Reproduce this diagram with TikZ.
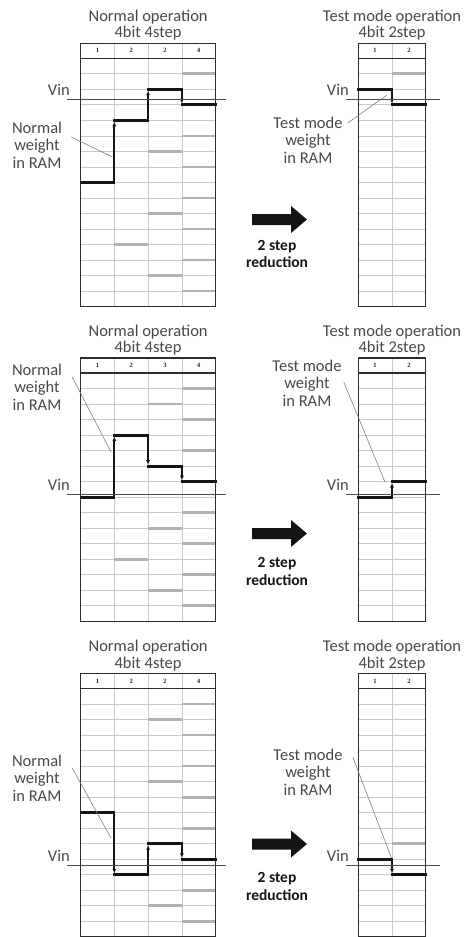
\documentclass[tikz,border=0pt]{standalone}
\usepackage{fontspec}
\setmainfont{Carlito}
\newfontfamily\numfont{Liberation Serif}
\usetikzlibrary{arrows.meta}

\definecolor{gridc}{HTML}{C9C9C9}
\definecolor{markc}{HTML}{B2B2B2}
\definecolor{txtc}{HTML}{484848}
\definecolor{framec}{HTML}{2E2E2E}
\definecolor{tracec}{HTML}{141414}

% column width, row pitch and full height of a grid panel
\def\colw{33.8}
\def\rowp{15.52}
\def\panh{263.3}

% light grid: 15 row lines and the column separators
\newcommand\panelgrid[1]{%
  \pgfmathsetmacro\gw{\colw*#1}%
  \pgfmathtruncatemacro\cl{#1-1}%
  \foreach \k in {1,...,15}{\draw[gridline] (0,{15+\rowp*\k}) -- (\gw,{15+\rowp*\k});}%
  \foreach \c in {1,...,\cl}{\draw[gridline] ({\colw*\c},0) -- ({\colw*\c},\panh);}%
}
% outer frame, heading rule and column numbers
\newcommand\panelframe[3]{%
  \pgfmathsetmacro\gw{\colw*#1}%
  \draw[frame] (0,0) rectangle (\gw,\panh);
  \draw[headrule] (0,15) -- (\gw,15);
  \foreach \c/\t in {#2}{\node[colnum] (#3-\c) at ({\colw*(\c-0.5)},7.5) {\t};}%
}
% thick arrow between the two panels of a row
\newcommand\blockarrow[1]{%
  \fill[bigarrow] (252,{#1-5.5}) -- (291,{#1-5.5}) -- (291,{#1-13.5}) -- (307,#1)
    -- (291,{#1+13.5}) -- (291,{#1+5.5}) -- (252,{#1+5.5}) -- cycle;
}

\begin{document}
\begin{tikzpicture}[x=1pt,y=-1pt,
  gridline/.style={draw=gridc, line width=0.8pt},
  levelmark/.style={draw=markc, line width=2.7pt},
  frame/.style={draw=framec, line width=1.2pt},
  headrule/.style={draw=framec, line width=1.5pt},
  trace/.style={draw=tracec, line width=3pt, shorten <=-0.9pt, shorten >=-0.9pt},
  riser/.style={draw=tracec, line width=1.7pt, -{Latex[length=4.5pt,width=4pt]}, shorten >=1.4pt},
  vinline/.style={draw=black!70, line width=0.8pt},
  leader/.style={draw=black!50, line width=0.6pt},
  title/.style={font=\fontsize{16.5}{16.5}\selectfont, text=txtc, align=center, inner sep=0pt, anchor=south},
  note/.style={font=\fontsize{16.5}{17.5}\selectfont, text=txtc, align=center, inner sep=0pt},
  colnum/.style={font=\numfont\bfseries\fontsize{6.5}{7}\selectfont, text=black!85, inner sep=0pt},
  vinlabel/.style={font=\fontsize{16.5}{16.5}\selectfont, text=txtc, inner sep=0pt, anchor=base east},
  reduce/.style={font=\bfseries\fontsize{15.5}{17.5}\selectfont, text=black!92, align=center, inner sep=0pt},
  bigarrow/.style={fill=black!92}]
\useasboundingbox (0,0) rectangle (465,937);

% ===================== first row =====================
\node[title] (nA) at (148.1,40.8) {Normal operation\\4bit 4step};
\node[title] (mA) at (392,40.8) {Test mode operation\\4bit 2step};

\begin{scope}[shift={(80.5,43.3)}]
  \panelgrid{4}
  \foreach \c/\k in {2/12,3/6,3/10,3/14,4/1,4/5,4/7,4/9,4/11,4/13,4/15}
    {\draw[levelmark] ({\colw*(\c-1)},{15+\rowp*\k}) -- ({\colw*\c},{15+\rowp*\k});}
  \panelframe{4}{1/1,2/2,3/2,4/4}{hA}
  \foreach \c/\k in {1/8,2/4,3/2,4/3}
    {\draw[trace] ({\colw*(\c-1)},{15+\rowp*\k}) -- ({\colw*\c},{15+\rowp*\k});}
  \foreach \c/\a/\b in {1/8/4,2/4/2,3/2/3}
    {\draw[riser] ({\colw*\c},{15+\rowp*\a}) -- ({\colw*\c},{15+\rowp*\b});}
\end{scope}

\begin{scope}[shift={(358.2,43.3)}]
  \panelgrid{2}
  \draw[levelmark] (\colw,{15+\rowp*1}) -- ({2*\colw},{15+\rowp*1});
  \panelframe{2}{1/1,2/2}{gA}
  \foreach \c/\k in {1/2,2/3}
    {\draw[trace] ({\colw*(\c-1)},{15+\rowp*\k}) -- ({\colw*\c},{15+\rowp*\k});}
  \draw[riser] (\colw,{15+\rowp*2}) -- (\colw,{15+\rowp*3});
\end{scope}

\draw[vinline] (67,99) -- (226,99);
\draw[vinline] (346,99) -- (440,99);
\node[vinlabel] (vA) at (70,95.5) {Vin};
\node[vinlabel] (uA) at (349,95.5) {Vin};

\node[note] (wA) at (37,145) {Normal\\weight\\in RAM};
\node[note] (tA) at (308,140) {Test mode\\weight\\in RAM};
\coordinate (pA) at (112.5,157);
\coordinate (qA) at (387,95);
\draw[leader] ([xshift=9pt,yshift=8pt]wA.east) -- (pA);
\draw[leader] ([xshift=5pt,yshift=17pt]tA.east) -- (qA);

\blockarrow{219.5}
\node[reduce] (rA) at (277,254) {2 step\\reduction};

% ===================== second row =====================
\node[title] (nB) at (148.1,355.5) {Normal operation\\4bit 4step};
\node[title] (mB) at (392,355.5) {Test mode operation\\4bit 2step};

\begin{scope}[shift={(80.5,358)}]
  \panelgrid{4}
  \foreach \c/\k in {2/12,3/2,3/10,3/14,4/1,4/3,4/5,4/9,4/11,4/13,4/15}
    {\draw[levelmark] ({\colw*(\c-1)},{15+\rowp*\k}) -- ({\colw*\c},{15+\rowp*\k});}
  \panelframe{4}{1/1,2/2,3/3,4/4}{hB}
  \foreach \c/\k in {1/8,2/4,3/6,4/7}
    {\draw[trace] ({\colw*(\c-1)},{15+\rowp*\k}) -- ({\colw*\c},{15+\rowp*\k});}
  \foreach \c/\a/\b in {1/8/4,2/4/6,3/6/7}
    {\draw[riser] ({\colw*\c},{15+\rowp*\a}) -- ({\colw*\c},{15+\rowp*\b});}
\end{scope}

\begin{scope}[shift={(358.2,358)}]
  \panelgrid{2}
  \panelframe{2}{1/1,2/2}{gB}
  \foreach \c/\k in {1/8,2/7}
    {\draw[trace] ({\colw*(\c-1)},{15+\rowp*\k}) -- ({\colw*\c},{15+\rowp*\k});}
  \draw[riser] (\colw,{15+\rowp*8}) -- (\colw,{15+\rowp*7});
\end{scope}

\draw[vinline] (67,494.1) -- (226,494.1);
\draw[vinline] (346,494.1) -- (440,494.1);
\node[vinlabel] (vB) at (70,490.6) {Vin};
\node[vinlabel] (uB) at (349,490.6) {Vin};

\node[note] (wB) at (37,387) {Normal\\weight\\in RAM};
\node[note] (tB) at (307,383) {Test mode\\weight\\in RAM};
\coordinate (pB) at (111,452);
\coordinate (qB) at (385,482);
\draw[leader] ([xshift=10pt,yshift=10pt]wB.east) -- (pB);
\draw[leader] ([xshift=2pt,yshift=1pt]tB.east) -- (qB);

\blockarrow{533.5}
\node[reduce] (rB) at (277,571.5) {2 step\\reduction};

% ===================== third row =====================
\node[title] (nC) at (148.1,671) {Normal operation\\4bit 4step};
\node[title] (mC) at (392,671) {Test mode operation\\4bit 2step};

\begin{scope}[shift={(80.5,673.5)}]
  \panelgrid{4}
  \foreach \c/\k in {3/2,3/6,3/14,4/1,4/3,4/5,4/7,4/9,4/13,4/15}
    {\draw[levelmark] ({\colw*(\c-1)},{15+\rowp*\k}) -- ({\colw*\c},{15+\rowp*\k});}
  \panelframe{4}{1/1,2/2,3/2,4/4}{hC}
  \foreach \c/\k in {1/8,2/12,3/10,4/11}
    {\draw[trace] ({\colw*(\c-1)},{15+\rowp*\k}) -- ({\colw*\c},{15+\rowp*\k});}
  \foreach \c/\a/\b in {1/8/12,2/12/10,3/10/11}
    {\draw[riser] ({\colw*\c},{15+\rowp*\a}) -- ({\colw*\c},{15+\rowp*\b});}
\end{scope}

\begin{scope}[shift={(358.2,673.5)}]
  \panelgrid{2}
  \draw[levelmark] (\colw,{15+\rowp*10}) -- ({2*\colw},{15+\rowp*10});
  \panelframe{2}{1/1,2/2}{gC}
  \foreach \c/\k in {1/11,2/12}
    {\draw[trace] ({\colw*(\c-1)},{15+\rowp*\k}) -- ({\colw*\c},{15+\rowp*\k});}
  \draw[riser] (\colw,{15+\rowp*11}) -- (\colw,{15+\rowp*12});
\end{scope}

\draw[vinline] (67,865.3) -- (226,865.3);
\draw[vinline] (346,865.3) -- (440,865.3);
\node[vinlabel] (vC) at (70,861.8) {Vin};
\node[vinlabel] (uC) at (349,861.8) {Vin};

\node[note] (wC) at (37,778) {Normal\\weight\\in RAM};
\node[note] (tC) at (308,772) {Test mode\\weight\\in RAM};
\coordinate (pC) at (111,838);
\coordinate (qC) at (391.5,858);
\draw[leader] ([xshift=10pt,yshift=10pt]wC.east) -- (pC);
\draw[leader] ([xshift=10pt,yshift=15pt]tC.east) -- (qC);

\blockarrow{844}
\node[reduce] (rC) at (277,886.5) {2 step\\reduction};
\end{tikzpicture}
\end{document}
